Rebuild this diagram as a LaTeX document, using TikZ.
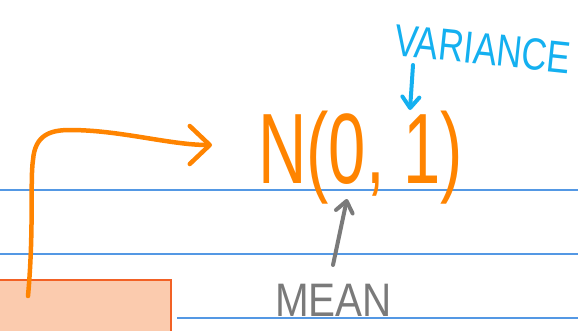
\documentclass[tikz,border=0pt]{standalone}
\usepackage{fontspec}
\setmainfont{Liberation Sans}
\usetikzlibrary{arrows.meta,calc}
\definecolor{penorange}{RGB}{255,132,0}
\definecolor{pencyan}{RGB}{20,176,240}
\definecolor{pengray}{RGB}{122,122,122}
\definecolor{ruleblue}{RGB}{84,152,228}
\definecolor{boxfill}{RGB}{251,203,174}
\definecolor{boxline}{RGB}{242,97,37}
\tikzset{
  rule/.style={draw=ruleblue, line width=1.3pt},
  srcbox/.style={draw=boxline, fill=boxfill, line width=2.5pt,
                 minimum width=173pt, minimum height=52pt, inner sep=0pt},
  hand/.style={inner sep=0pt, anchor=base west},
  penarrow/.style={line width=#1, line cap=round, line join=round},
  orangearrow/.style={penarrow=4.5pt, draw=penorange,
                      -{Straight Barb[length=20pt,width=38pt,round]}},
  smallarrow/.style={penarrow=4pt, -{Straight Barb[length=11pt,width=17pt,round]}}
}

\begin{document}
\begin{tikzpicture}[x=1pt,y=-1pt]
\useasboundingbox[fill=white] (0,0) rectangle (578,330);
% ruled paper
\draw[rule] (0,190) -- (578,190);
\draw[rule] (0,254) -- (578,254);
\draw[rule] (177,318) -- (578,318);

\node[srcbox] (src) at (84.5,306) {};
\node[hand, text=penorange, font=\fontsize{100}{100}\selectfont] (dist) at (258,183)
  {\scalebox{0.67}[1]{N(0, 1)}};
\node[hand, text=pencyan, rotate=-6, font=\fontsize{45}{45}\selectfont] (var) at (393,55)
  {\scalebox{0.78}[1]{VARIANCE}};
\node[hand, text=pengray, font=\fontsize{47}{47}\selectfont] (mean) at (275,316)
  {\scalebox{0.86}[1]{MEAN}};

% connectors
\draw[orangearrow] ([shift={(-56.5,-10)}]src.center)
  .. controls (34,230) and (30,180) .. (33,160)
  .. controls (35,135) and (50,130) .. (70,130)
  .. controls (120,130) and (170,145) .. ([shift={(-46,-38)}]dist.base west);
\draw[smallarrow, draw=pencyan] ([shift={(20,10)}]var.base west)
  -- ([shift={(152,-73)}]dist.base west);
\draw[smallarrow, draw=pengray] ([shift={(58,-51)}]mean.base west)
  -- ([shift={(89,16)}]dist.base west);
\end{tikzpicture}
\end{document}
